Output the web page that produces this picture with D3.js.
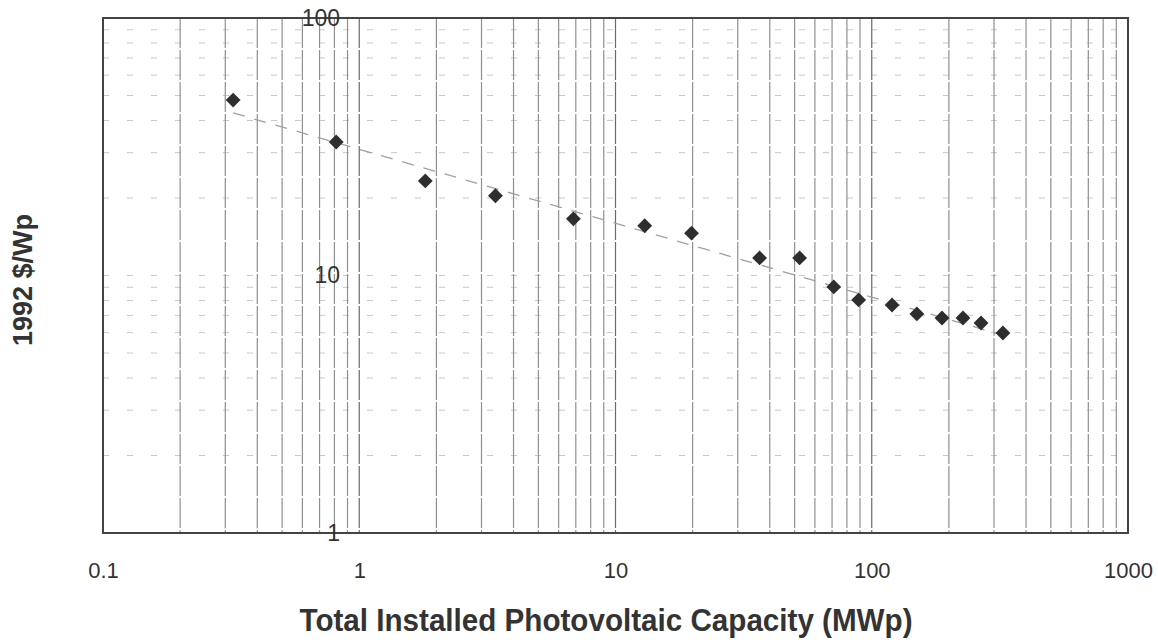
<!DOCTYPE html>
<html>
<head>
    <title>PV learning curve</title>
    <script type="text/javascript" src="https://cdn.jsdelivr.net/npm/d3@7/dist/d3.min.js"></script>
    <style type="text/css">
        body { margin: 0; background: #fff; }
        svg { font-family: Arial, "Liberation Sans", sans-serif; }
    </style>
</head>
<body>
    <svg id="chart" width="1158" height="640"></svg>
</body>

<script type="text/javascript">

    // cumulative installed capacity (MWp) and price (1992 $/Wp)
    let capacity = [0.322, 0.813, 1.81, 3.40, 6.85, 13.0, 19.8, 36.5, 52.3, 71.1, 88.9, 120, 150, 188, 227, 267, 325];
    let price    = [48.0, 33.0, 23.3, 20.4, 16.6, 15.6, 14.6, 11.7, 11.7, 9.03, 8.04, 7.68, 7.09, 6.84, 6.84, 6.54, 5.98];

    // trend line end points
    let trendX = [0.322, 325];
    let trendY = [42.8, 5.87];

    let xTicks = [0.1, 1, 10, 100, 1000];
    let yTicks = [1, 10, 100];

    let svg = d3.select("#chart");
    let pLeft = 103, pRight = 1128, pTop = 18, pBottom = 533;

    let x = d3.scaleLog().domain([0.1, 1000]).range([pLeft, pRight]);
    let y = d3.scaleLog().domain([1, 100]).range([pBottom, pTop]);

    // minor grid values for each decade
    function minor(lo, hi) {
        let out = [];
        for (let d = lo; d < hi; d *= 10) {
            for (let k = 2; k <= 9; k++) out.push(d * k);
        }
        return out;
    }

    // horizontal grid, faint dashed
    svg.append("g").selectAll("line")
        .data(minor(1, 100).concat([10]))
        .enter().append("line")
        .attr("x1", pLeft).attr("x2", pRight)
        .attr("y1", d => y(d)).attr("y2", d => y(d))
        .attr("stroke", "#c8c8c8")
        .attr("stroke-width", 1)
        .attr("stroke-dasharray", "6,18");

    // vertical grid
    svg.append("g").selectAll("line")
        .data(minor(0.1, 1000).concat([1, 10, 100]))
        .enter().append("line")
        .attr("x1", d => x(d)).attr("x2", d => x(d))
        .attr("y1", pTop).attr("y2", pBottom)
        .attr("stroke", d => xTicks.indexOf(d) >= 0 ? "#6a6a6a" : "#909090")
        .attr("stroke-width", 1.2)
        .attr("stroke-dasharray", "30,2");

    // frame
    svg.append("rect")
        .attr("x", pLeft).attr("y", pTop)
        .attr("width", pRight - pLeft).attr("height", pBottom - pTop)
        .attr("fill", "none")
        .attr("stroke", "#444")
        .attr("stroke-width", 2);

    // trend line
    let line = d3.line().x(d => x(d[0])).y(d => y(d[1]));
    svg.append("path")
        .attr("d", line(d3.zip(trendX, trendY)))
        .attr("fill", "none")
        .attr("stroke", "#a0a0a0")
        .attr("stroke-width", 1.3)
        .attr("stroke-dasharray", "12,10");

    // data points
    svg.append("g").selectAll("path")
        .data(d3.zip(capacity, price))
        .enter().append("path")
        .attr("d", d3.symbol().type(d3.symbolDiamond2).size(140))
        .attr("transform", d => "translate(" + x(d[0]) + "," + y(d[1]) + ")")
        .attr("fill", "#2e2e2e");

    // x axis tick labels
    svg.append("g")
        .attr("transform", "translate(0," + pBottom + ")")
        .call(d3.axisBottom(x).tickValues(xTicks).tickSize(0).tickPadding(29)
            .tickFormat(d => String(d)))
        .call(g => g.select(".domain").remove())
        .selectAll("text")
        .attr("font-size", 22)
        .attr("font-family", "Arial, 'Liberation Sans', sans-serif")
        .attr("fill", "#333");

    // y axis tick labels, sitting inside the plot like the original
    svg.append("g")
        .attr("transform", "translate(340,0)")
        .call(d3.axisLeft(y).tickValues(yTicks).tickSize(0).tickPadding(0)
            .tickFormat(d => String(d)))
        .call(g => g.select(".domain").remove())
        .selectAll("text")
        .attr("font-size", 23)
        .attr("font-family", "Arial, 'Liberation Sans', sans-serif")
        .attr("fill", "#333");

    // axis titles
    svg.append("text")
        .attr("x", 606).attr("y", 631)
        .attr("text-anchor", "middle")
        .attr("font-size", 31)
        .attr("font-weight", "bold")
        .attr("fill", "#333")
        .attr("textLength", 613)
        .attr("lengthAdjust", "spacingAndGlyphs")
        .text("Total Installed Photovoltaic Capacity (MWp)");

    svg.append("text")
        .attr("transform", "translate(32,280) rotate(-90)")
        .attr("text-anchor", "middle")
        .attr("font-size", 27)
        .attr("font-weight", "bold")
        .attr("fill", "#333")
        .text("1992 $/Wp");
</script>

</html>
